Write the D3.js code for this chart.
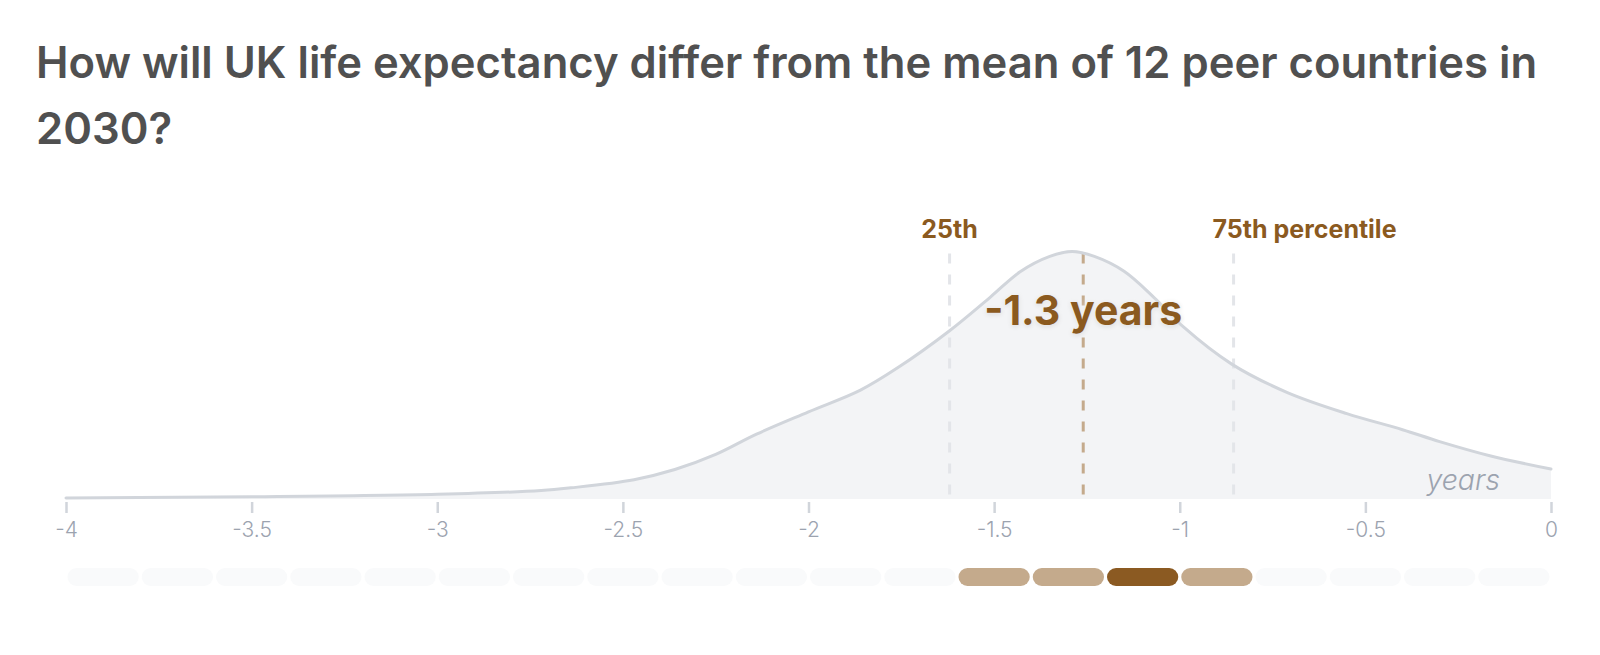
<!DOCTYPE html>
<html lang="en">
<head>
<meta charset="UTF-8">
<title>UK life expectancy vs peers</title>
<script src="https://cdn.jsdelivr.net/npm/d3@7"></script>
<style>
  body { margin: 0; background: #fff; font-family: Inter, "Noto Sans", sans-serif; }
</style>
</head>
<body>
<svg width="1600" height="655"></svg>
<script>
// density curve (relative, peak = 1)
var xValues = [-4, -3.5, -3, -2.72, -2.64, -2.47, -2.36, -2.25, -2.14, -2.0, -1.86, -1.76, -1.62, -1.51, -1.43, -1.35, -1.29, -1.23, -1.15, -1.07, -0.99, -0.86, -0.71, -0.55, -0.4, -0.3, -0.165, 0];
var density = [0.004, 0.009, 0.019, 0.034, 0.045, 0.078, 0.119, 0.18, 0.262, 0.352, 0.44, 0.53, 0.68, 0.816, 0.918, 0.98, 1.0, 0.98, 0.92, 0.815, 0.695, 0.545, 0.43, 0.345, 0.28, 0.232, 0.175, 0.121];

var xTicks = [-4, -3.5, -3, -2.5, -2, -1.5, -1, -0.5, 0];

// percentile markers
var markerValues = [-1.62, -1.26, -0.855];
var markerNames = ["25th", "median", "75th percentile"];
var medianLabel = "-1.3 years";

// bins under the axis, 0 = none, 1 = range, 2 = selected
var binStarts = [-4, -3.8, -3.6, -3.4, -3.2, -3, -2.8, -2.6, -2.4, -2.2, -2, -1.8, -1.6, -1.4, -1.2, -1, -0.8, -0.6, -0.4, -0.2];
var binState = [0, 0, 0, 0, 0, 0, 0, 0, 0, 0, 0, 0, 1, 1, 2, 1, 0, 0, 0, 0];
var binWidth = 0.2;

var svg = d3.select('svg');
var brown = '#8b5a1f';
var binColors = ['#f9fafb', '#c4aa8c', '#8b5a22'];

// title
var title = svg.append('text')
    .attr('x', 36)
    .attr('fill', '#505050')
    .style('font-size', '43.6px')
    .style('font-weight', 600);
title.append('tspan').attr('x', 36).attr('y', 78)
    .text('How will UK life expectancy differ from the mean of 12 peer countries in');
title.append('tspan').attr('x', 36).attr('y', 144).text('2030?');

var x = d3.scaleLinear().domain([-4, 0]).range([66, 1551]);
var y = d3.scaleLinear().domain([0, 1]).range([499, 251.5]);

var pts = xValues.map(function(v, i) { return [v, density[i]]; });

var area = d3.area()
    .x(function(d) { return x(d[0]); })
    .y0(y(0))
    .y1(function(d) { return y(d[1]); })
    .curve(d3.curveCatmullRom.alpha(0.5));
var line = d3.line()
    .x(function(d) { return x(d[0]); })
    .y(function(d) { return y(d[1]); })
    .curve(d3.curveCatmullRom.alpha(0.5));

svg.append('path').datum(pts).attr('d', area).attr('fill', '#f3f4f6');

// dashed percentile lines
svg.selectAll('.pline').data(markerValues).enter().append('line')
    .attr('class', 'pline')
    .attr('x1', function(d) { return x(d); })
    .attr('x2', function(d) { return x(d); })
    .attr('y1', y(1) + 2)
    .attr('y2', y(0))
    .attr('stroke', function(d, i) { return i === 1 ? '#c4aa8c' : '#e3e5e9'; })
    .attr('stroke-width', 3)
    .attr('stroke-dasharray', '10,11');

svg.append('path').datum(pts).attr('d', line)
    .attr('fill', 'none')
    .attr('stroke', '#d1d5db')
    .attr('stroke-width', 3)
    .attr('stroke-linecap', 'round');

// percentile labels
svg.append('text')
    .attr('x', x(markerValues[0]))
    .attr('y', 238)
    .attr('text-anchor', 'middle')
    .attr('fill', brown)
    .style('font-size', '25px')
    .style('font-weight', 700)
    .text(markerNames[0]);
svg.append('text')
    .attr('x', x(markerValues[2]) - 21)
    .attr('y', 238)
    .attr('fill', brown)
    .style('font-size', '25px')
    .style('font-weight', 700)
    .text(markerNames[2]);

svg.append('text')
    .attr('x', x(markerValues[1]))
    .attr('y', 325)
    .attr('text-anchor', 'middle')
    .attr('fill', brown)
    .style('font-size', '41px')
    .style('font-weight', 700)
    .style('text-shadow', '0 0 6px rgba(255,255,255,1), 0 1px 5px rgba(0,0,0,0.2)')
    .text(medianLabel);

svg.append('text')
    .attr('x', 1500)
    .attr('y', 490)
    .attr('text-anchor', 'end')
    .attr('fill', '#9ca3af')
    .style('font-size', '28.5px')
    .style('font-style', 'italic')
    .style('font-weight', 300)
    .text('years');

// axis
var axis = d3.axisBottom(x)
    .tickValues(xTicks)
    .tickSize(11)
    .tickPadding(9)
    .tickFormat(function(d) { return String(d); });
var gx = svg.append('g').attr('transform', 'translate(0,502)').call(axis);
gx.select('.domain').remove();
gx.selectAll('.tick line').attr('stroke', '#d1d5db').attr('stroke-width', 2.5);
gx.selectAll('.tick text')
    .attr('fill', '#9ca3af')
    .style('font-family', 'Inter, sans-serif')
    .style('font-size', '21px')
    .style('font-weight', 300);

// bins
svg.selectAll('.bin').data(binStarts).enter().append('rect')
    .attr('class', 'bin')
    .attr('x', function(d) { return x(d) + 1.5; })
    .attr('width', function(d) { return x(d + binWidth) - x(d) - 3; })
    .attr('y', 568)
    .attr('height', 18)
    .attr('rx', 9)
    .attr('fill', function(d, i) { return binColors[binState[i]]; });
</script>
</body>
</html>
